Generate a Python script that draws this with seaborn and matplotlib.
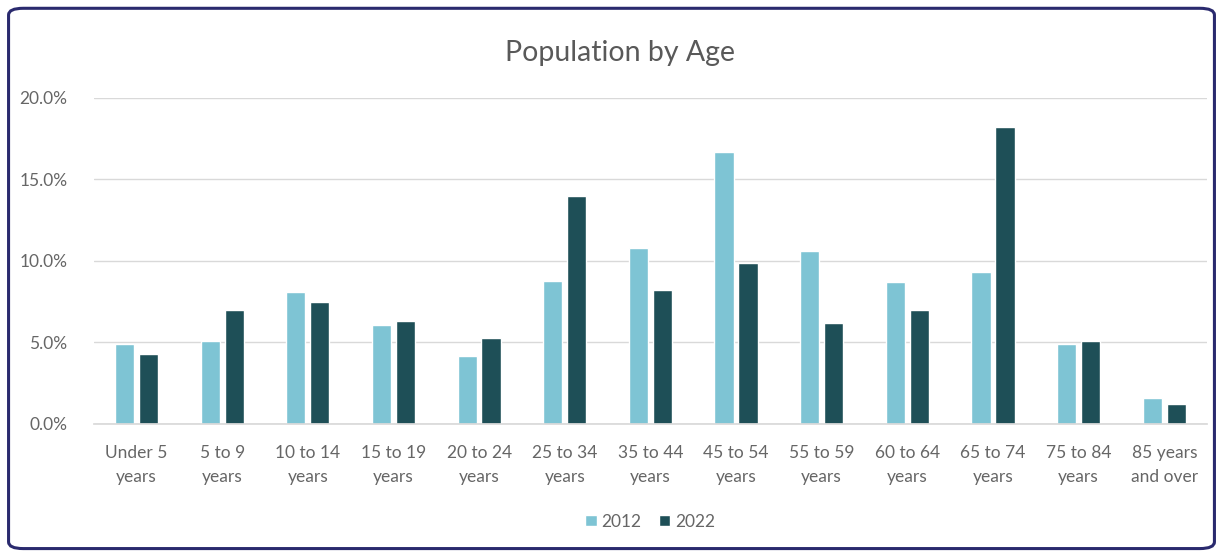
import matplotlib
matplotlib.use("Agg")
import matplotlib.pyplot as plt
from matplotlib.patches import FancyBboxPatch
import seaborn as sns
import pandas as pd

categories = ["Under 5\nyears", "5 to 9\nyears", "10 to 14\nyears", "15 to 19\nyears",
              "20 to 24\nyears", "25 to 34\nyears", "35 to 44\nyears", "45 to 54\nyears",
              "55 to 59\nyears", "60 to 64\nyears", "65 to 74\nyears", "75 to 84\nyears",
              "85 years\nand over"]
values_2012 = [4.9, 5.1, 8.1, 6.1, 4.2, 8.8, 10.8, 16.7, 10.6, 8.7, 9.3, 4.9, 1.6]
values_2022 = [4.3, 7.0, 7.5, 6.3, 5.3, 14.0, 8.2, 9.9, 6.2, 7.0, 18.2, 5.1, 1.2]
series = ["2012", "2022"]
yticks = [0, 5, 10, 15, 20]

df = pd.DataFrame({
    "Age": categories * 2,
    "Share": values_2012 + values_2022,
    "Year": [series[0]] * len(categories) + [series[1]] * len(categories),
})

sns.set_theme(style="white")
plt.rcParams['font.family'] = ['Lato', 'DejaVu Sans']

fig = plt.figure(figsize=(12.23, 5.53), dpi=100)
fig.patch.set_facecolor("white")
ax = fig.add_axes([0.0766, 0.2333, 0.9104, 0.5895])

palette = {"2012": "#7ec4d4", "2022": "#1e4f57"}
sns.barplot(data=df, x="Age", y="Share", hue="Year", palette=palette,
            width=0.56, gap=0.2, ax=ax, legend=True, saturation=1)

ax.set_ylim(0, 20)
ax.set_xlim(-0.5, len(categories) - 0.5)
ax.set_yticks(yticks)
ax.set_yticklabels([f"{v:.1f}%" for v in yticks], color="#666666", fontsize=12.5)
ax.tick_params(axis="x", colors="#666666", labelsize=12.5, length=0, pad=15)
ax.tick_params(axis="y", length=0, pad=19)
for lbl in ax.get_xticklabels():
    lbl.set_linespacing(1.65)
ax.set_xlabel("")
ax.set_ylabel("")
ax.grid(axis="y", color="#d9d9d9", linewidth=1)
ax.set_axisbelow(True)
for s in ["top", "right", "left"]:
    ax.spines[s].set_visible(False)
ax.spines["bottom"].set_color("#d9d9d9")
ax.set_facecolor("white")

leg = ax.legend(loc="center", bbox_to_anchor=(0.5, -0.30), ncol=2, frameon=False,
                fontsize=12.5, handlelength=0.65, handleheight=0.65, handletextpad=0.3,
                columnspacing=1.0)
for t in leg.get_texts():
    t.set_color("#666666")

fig.text(0.507, 0.905, "Population by Age", ha="center", va="center",
         fontsize=20.5, color="#595959")

border = FancyBboxPatch((0.007, 0.008), 0.986, 0.977,
                        boxstyle="round,pad=0,rounding_size=0.012",
                        transform=fig.transFigure, facecolor="none",
                        edgecolor="#2a2a6e", linewidth=2.2, zorder=10)
fig.patches.append(border)

fig.savefig("out.png", dpi=100)
